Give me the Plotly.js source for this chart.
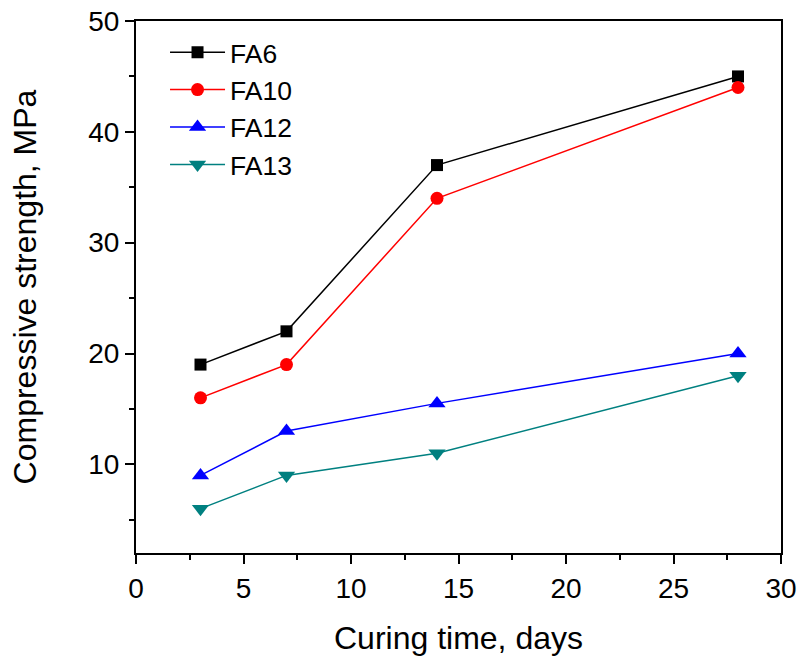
<!DOCTYPE html>
<html>
<head>
<meta charset="utf-8">
<script src="https://cdn.plot.ly/plotly-3.0.1.min.js"></script>
<style>
  html, body { margin: 0; padding: 0; background: #fff; }
  #chart { width: 801px; height: 657px; }
</style>
</head>
<body>
<div id="chart"></div>
<script>
// Curing ages (days)
const curingDays = [3, 7, 14, 28];

// Compressive strength (MPa) per mix
const fa6 = [19, 22, 37, 45];
const fa10 = [16, 19, 34, 44];
const fa12 = [9, 13, 15.5, 20];
const fa13 = [6, 9, 11, 18];

const seriesNames = ['FA6', 'FA10', 'FA12', 'FA13'];
const seriesValues = [fa6, fa10, fa12, fa13];
const seriesColors = ['#000000', '#ff0000', '#0000ff', '#008080'];
const seriesSymbols = ['square', 'circle', 'triangle-up', 'triangle-down'];
const symbolSizes = [12, 13, 15, 15];

const traces = seriesNames.map((name, i) => ({
  type: 'scatter',
  mode: 'lines+markers',
  name: name,
  x: curingDays,
  y: seriesValues[i],
  line: { color: seriesColors[i], width: 1.5 },
  marker: { color: seriesColors[i], symbol: seriesSymbols[i], size: symbolSizes[i] }
}));

const family = 'Liberation Sans, Arial, sans-serif';
const tickFont = { family: family, size: 28, color: '#000' };
const titleFont = { family: family, size: 32, color: '#000' };

const layout = {
  width: 801,
  height: 657,
  paper_bgcolor: '#fff',
  plot_bgcolor: '#fff',
  margin: { l: 136, r: 20, t: 21, b: 104 },
  font: tickFont,
  showlegend: true,
  legend: {
    x: 0.045, y: 0.986, xanchor: 'left', yanchor: 'top',
    bgcolor: 'rgba(0,0,0,0)',
    font: { family: family, size: 26.5, color: '#000' },
    traceorder: 'normal',
    itemwidth: 55
  },
  xaxis: {
    range: [0, 30],
    dtick: 5,
    tick0: 0,
    ticks: 'outside',
    ticklen: 9,
    tickwidth: 2,
    tickcolor: '#000',
    showline: true,
    linewidth: 2,
    linecolor: '#000',
    mirror: true,
    showgrid: false,
    zeroline: false,
    tickfont: tickFont,
    minor: { dtick: 2.5, ticks: 'outside', ticklen: 5, tickwidth: 2, tickcolor: '#000', showgrid: false },
    title: { text: 'Curing time, days', font: titleFont, standoff: 24 }
  },
  yaxis: {
    range: [2, 50],
    dtick: 10,
    tick0: 0,
    ticks: 'outside',
    ticklen: 9,
    tickwidth: 2,
    tickcolor: '#000',
    showline: true,
    linewidth: 2,
    linecolor: '#000',
    mirror: true,
    showgrid: false,
    zeroline: false,
    tickfont: tickFont,
    minor: { dtick: 5, ticks: 'outside', ticklen: 5, tickwidth: 2, tickcolor: '#000', showgrid: false },
    title: { text: 'Compressive strength, MPa', font: titleFont, standoff: 42 }
  }
};

Plotly.newPlot('chart', traces, layout, { displayModeBar: false, staticPlot: true });
</script>
</body>
</html>
